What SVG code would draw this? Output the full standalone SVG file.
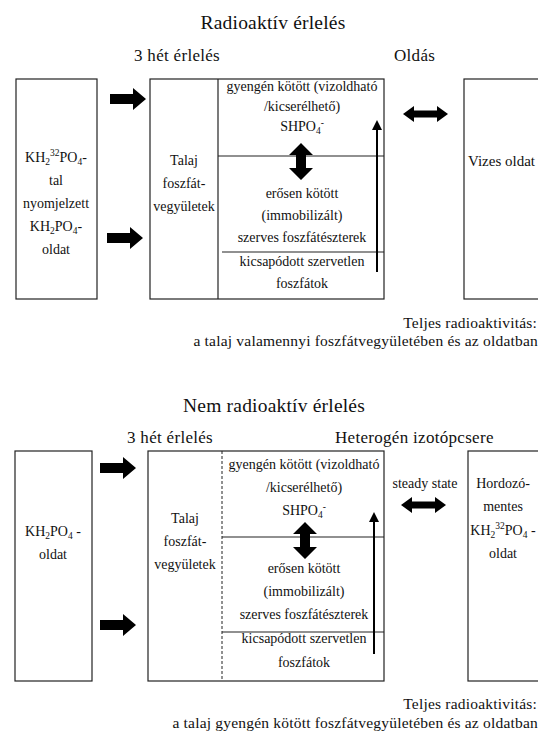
<svg xmlns="http://www.w3.org/2000/svg" width="538" height="736" viewBox="0 0 538 736">
<defs>
<style>
text{font-family:'Liberation Serif','Times New Roman',serif;fill:#111}
.t1{font-size:19.5px;letter-spacing:0.2px;text-anchor:middle}
.t2{font-size:17px;letter-spacing:0.3px}
.s{font-size:14px;text-anchor:middle}
.r{font-size:15.5px;letter-spacing:0.2px;text-anchor:end}
.box{fill:#fff;stroke:#222;stroke-width:1.2}
.ln{stroke:#222;stroke-width:1.2;fill:none}
.dash{stroke:#222;stroke-width:1;stroke-dasharray:3,2;fill:none}
.blk{fill:#000}
.thin{stroke:#000;stroke-width:2;fill:none}
.sub{font-size:9.5px}
</style>
<path id="ra" d="M0,-5 H23 V-11 L36,0 L23,11 V5 H0 Z"/>
<path id="ha" d="M0,0 L11,-8 V-3.5 H34 V-8 L45,0 L34,8 V3.5 H11 V8 Z"/>
<path id="va" d="M0,0 L12,12 H5 V25 H12 L0,37 L-12,25 H-5 V12 H-12 Z"/>
<marker id="ah" markerWidth="10" markerHeight="10" refX="5" refY="5" orient="auto" markerUnits="userSpaceOnUse">
<path d="M0,0 L10,5 L0,10 Z" fill="#000"/>
</marker>
</defs>
<rect width="538" height="736" fill="#fff"/>

<!-- Top section -->
<g id="title1">
<text class="t1" x="273" y="29">Radioaktív érlelés</text>
<text class="t2" x="134" y="61">3 hét érlelés</text>
<text class="t2" x="394" y="61">Oldás</text>
</g>
<g id="src1">
<rect class="box" x="16" y="79" width="81" height="220"/>
<text class="s" x="56" y="162">KH<tspan class="sub" dy="3">2</tspan><tspan class="sub" dy="-9">32</tspan><tspan dy="6">PO</tspan><tspan class="sub" dy="3">4</tspan><tspan dy="-3">-</tspan></text>
<text class="s" x="56" y="185">tal</text>
<text class="s" x="56" y="208">nyomjelzett</text>
<text class="s" x="56" y="231">KH<tspan class="sub" dy="3">2</tspan><tspan dy="-3">PO</tspan><tspan class="sub" dy="3">4</tspan><tspan dy="-3">-</tspan></text>
<text class="s" x="56" y="254">oldat</text>
</g>
<g id="soil1">
<rect class="box" x="150" y="79" width="234" height="220"/>
<line class="ln" x1="218" y1="79" x2="218" y2="299"/>
<line class="ln" x1="218" y1="156" x2="384" y2="156"/>
<line class="ln" x1="222" y1="252" x2="384" y2="252"/>
<text class="s" x="184" y="165">Talaj</text>
<text class="s" x="184" y="188">foszfát-</text>
<text class="s" x="184" y="211">vegyületek</text>
<text class="s" x="302" y="91">gyengén kötött (vizoldható</text>
<text class="s" x="302" y="111">/kicserélhető)</text>
<text class="s" x="302" y="131">SHPO<tspan class="sub" dy="3">4</tspan><tspan class="sub" dy="-8">-</tspan></text>
<text class="s" x="302" y="198">erősen kötött</text>
<text class="s" x="302" y="220">(immobilizált)</text>
<text class="s" x="302" y="242">szerves foszfátészterek</text>
<text class="s" x="302" y="266">kicsapódott szervetlen</text>
<text class="s" x="302" y="288">foszfátok</text>
</g>
<g id="sol1">
<rect class="box" x="464" y="79" width="100" height="220"/>
<text x="468" y="166" font-size="15">Vizes oldat</text>
</g>
<g id="note1">
<text class="r" x="537" y="328">Teljes radioaktivitás:</text>
<text class="r" x="538" y="346">a talaj valamennyi foszfátvegyületében és az oldatban</text>
</g>

<!-- Bottom section -->
<g id="title2">
<text class="t1" x="274" y="412">Nem radioaktív érlelés</text>
<text class="t2" x="127" y="443">3 hét érlelés</text>
<text class="t2" x="335" y="443">Heterogén izotópcsere</text>
</g>
<g id="src2">
<rect class="box" x="15" y="451" width="77" height="230"/>
<text class="s" x="53" y="536">KH<tspan class="sub" dy="3">2</tspan><tspan dy="-3">PO</tspan><tspan class="sub" dy="3">4</tspan><tspan dy="-3"> -</tspan></text>
<text class="s" x="53" y="559">oldat</text>
</g>
<g id="soil2">
<rect class="box" x="148" y="451" width="236" height="230"/>
<line class="dash" x1="222" y1="451" x2="222" y2="681"/>
<line class="ln" x1="222" y1="537" x2="384" y2="537"/>
<line class="ln" x1="222" y1="632" x2="384" y2="632"/>
<text class="s" x="185" y="523">Talaj</text>
<text class="s" x="185" y="546">foszfát-</text>
<text class="s" x="185" y="569">vegyületek</text>
<text class="s" x="304" y="469">gyengén kötött (vizoldható</text>
<text class="s" x="304" y="492">/kicserélhető)</text>
<text class="s" x="304" y="515">SHPO<tspan class="sub" dy="3">4</tspan><tspan class="sub" dy="-8">-</tspan></text>
<text class="s" x="304" y="573">erősen kötött</text>
<text class="s" x="304" y="596">(immobilizált)</text>
<text class="s" x="304" y="619">szerves foszfátészterek</text>
<text class="s" x="304" y="643">kicsapódott szervetlen</text>
<text class="s" x="304" y="667">foszfátok</text>
</g>
<g id="sol2">
<rect class="box" x="468" y="451" width="100" height="230"/>
<text class="s" x="503" y="488">Hordozó-</text>
<text class="s" x="503" y="511">mentes</text>
<text class="s" x="503" y="535">KH<tspan class="sub" dy="3">2</tspan><tspan class="sub" dy="-9">32</tspan><tspan dy="6">PO</tspan><tspan class="sub" dy="3">4</tspan><tspan dy="-3"> -</tspan></text>
<text class="s" x="503" y="558">oldat</text>
</g>
<g id="note2">
<text class="s" x="425" y="488">steady state</text>
<text class="r" x="537" y="709">Teljes radioaktivitás:</text>
<text class="r" x="538" y="728">a talaj gyengén kötött foszfátvegyületében és az oldatban</text>
</g>

<g id="connectors">
<use href="#ra" class="blk" x="110" y="99"/>
<use href="#ra" class="blk" x="107" y="238"/>
<use href="#ha" class="blk" x="403" y="114"/>
<use href="#va" class="blk" x="301" y="143"/>
<line class="thin" x1="377" y1="272" x2="377" y2="125" marker-end="url(#ah)"/>
<use href="#ra" class="blk" x="100" y="468"/>
<use href="#ra" class="blk" x="100" y="625"/>
<use href="#ha" class="blk" x="401" y="505"/>
<use href="#va" class="blk" x="305" y="522"/>
<line class="thin" x1="374" y1="654" x2="374" y2="517" marker-end="url(#ah)"/>
</g>
</svg>
